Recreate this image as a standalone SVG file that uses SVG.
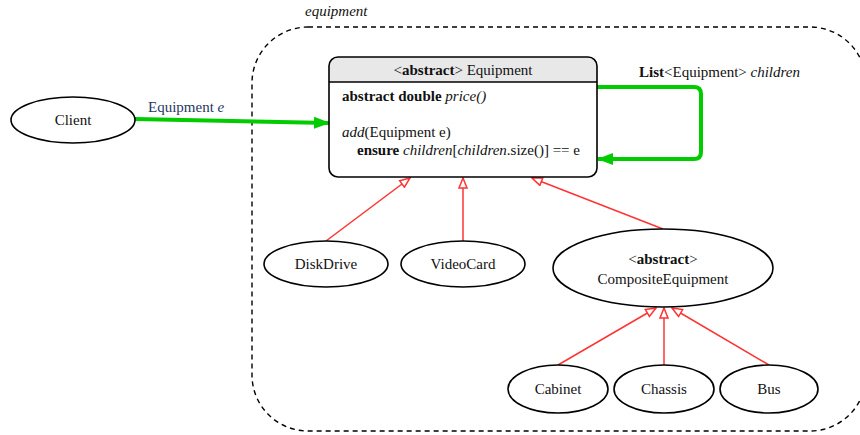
<svg xmlns="http://www.w3.org/2000/svg" width="860" height="435" viewBox="0 0 860 435" font-family="'Liberation Serif', 'Times New Roman', serif">
  <style>
    text { font-family: "Liberation Serif", "Times New Roman", serif; font-size: 15px; fill: #111; }
    .node { fill: #fff; stroke: #000; stroke-width: 1.6; }
    .inherit { fill: none; stroke: #ff3333; stroke-width: 1.5; }
    .assoc { fill: none; stroke: #00cc00; stroke-width: 4; }
    .cluster { fill: none; stroke: #000; stroke-width: 1.4; stroke-dasharray: 5 4; }
    .b { font-weight: bold; }
    .i { font-style: italic; }
  </style>
  <defs>
    <marker id="hollow" viewBox="0 0 12 10" refX="11" refY="5" markerWidth="12" markerHeight="10" markerUnits="userSpaceOnUse" orient="auto">
      <path d="M1,1 L11,5 L1,9 Z" fill="#fff" stroke="#ff3333" stroke-width="1.5"/>
    </marker>
    <marker id="solid" viewBox="0 0 16 12" refX="15" refY="6" markerWidth="16" markerHeight="12" markerUnits="userSpaceOnUse" orient="auto">
      <path d="M0,0 L16,6 L0,12 Z" fill="#00cc00"/>
    </marker>
  </defs>

  <!-- package boundary -->
  <g id="pkg-equipment">
    <rect class="cluster" x="252" y="27" width="614" height="404" rx="56" ry="56"/>
    <text class="i" x="305" y="16">equipment</text>
  </g>

  <!-- connectors -->
  <g id="edges">
    <path class="assoc" d="M135,119 L329,123" marker-end="url(#solid)"/>
    <text x="148" y="112" style="fill:#1f3a63">Equipment <tspan class="i">e</tspan></text>
    <path class="assoc" d="M597,87 L694,87 Q701,87 701,94 L701,152 Q701,159 694,159 L598,159" marker-end="url(#solid)"/>
    <text x="639" y="77"><tspan class="b">List</tspan>&lt;Equipment&gt; <tspan class="i">children</tspan></text>

    <path class="inherit" d="M326,241 L410,178" marker-end="url(#hollow)"/>
    <path class="inherit" d="M463,241 L463,178" marker-end="url(#hollow)"/>
    <path class="inherit" d="M663,229 L532,178" marker-end="url(#hollow)"/>
    <path class="inherit" d="M558,365 L656,308" marker-end="url(#hollow)"/>
    <path class="inherit" d="M664,365 L664,308" marker-end="url(#hollow)"/>
    <path class="inherit" d="M769,365 L672,308" marker-end="url(#hollow)"/>
  </g>

  <g id="Equipment">
    <path d="M337,57 L588,57 Q597,57 597,66 L597,82 L329,82 L329,66 Q329,57 337,57 Z" fill="#e8e8e8"/>
    <rect x="329" y="57" width="268" height="120" rx="9" ry="9" fill="none" stroke="#000" stroke-width="1.6"/>
    <line x1="329" y1="82" x2="597" y2="82" stroke="#000" stroke-width="1.4"/>
    <text x="463" y="75" text-anchor="middle">&lt;<tspan class="b">abstract</tspan>&gt; Equipment</text>
    <text x="342" y="101"><tspan class="b">abstract double</tspan> <tspan class="i">price()</tspan></text>
    <text x="342" y="137"><tspan class="i">add</tspan>(Equipment e)</text>
    <text x="357" y="155"><tspan class="b">ensure</tspan> <tspan class="i">children</tspan>[<tspan class="i">children</tspan>.size()] == e</text>
  </g>

  <g id="Client">
    <ellipse class="node" cx="73" cy="120" rx="62" ry="23"/>
    <text x="73" y="125" text-anchor="middle">Client</text>
  </g>

  <g id="DiskDrive">
    <ellipse class="node" cx="326" cy="264" rx="62" ry="23"/>
    <text x="326" y="269" text-anchor="middle">DiskDrive</text>
  </g>

  <g id="VideoCard">
    <ellipse class="node" cx="463" cy="264" rx="62" ry="23"/>
    <text x="463" y="269" text-anchor="middle">VideoCard</text>
  </g>

  <g id="CompositeEquipment">
    <ellipse class="node" cx="663" cy="268" rx="110" ry="39"/>
    <text x="663" y="264" text-anchor="middle">&lt;<tspan class="b">abstract</tspan>&gt;</text>
    <text x="663" y="284" text-anchor="middle">CompositeEquipment</text>
  </g>

  <g id="Cabinet">
    <ellipse class="node" cx="558" cy="389" rx="50" ry="24"/>
    <text x="558" y="394" text-anchor="middle">Cabinet</text>
  </g>

  <g id="Chassis">
    <ellipse class="node" cx="664" cy="389" rx="50" ry="24"/>
    <text x="664" y="394" text-anchor="middle">Chassis</text>
  </g>

  <g id="Bus">
    <ellipse class="node" cx="769" cy="389" rx="49" ry="24"/>
    <text x="769" y="394" text-anchor="middle">Bus</text>
  </g>
</svg>
